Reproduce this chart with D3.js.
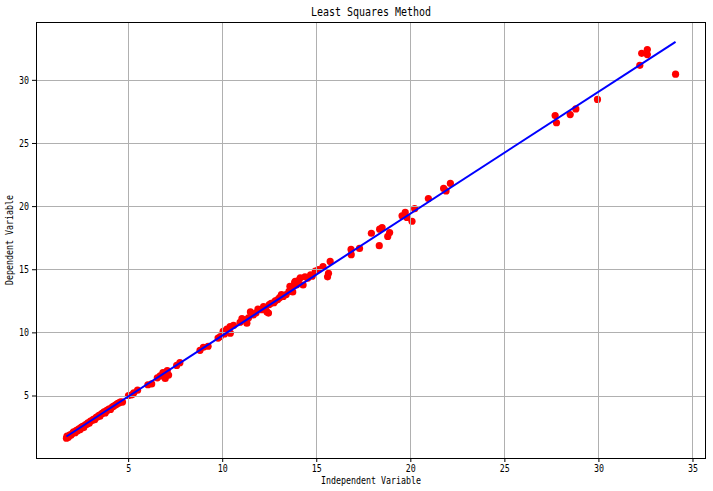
<!DOCTYPE html>
<html>
<head>
<meta charset="utf-8">
<script src="https://cdn.jsdelivr.net/npm/d3@7"></script>
<style>
  body { margin: 0; background: #fff; }
  text { font-family: "DejaVu Sans Mono", "Liberation Mono", monospace; fill: #000; }
</style>
</head>
<body>
<div id="chart"></div>
<script>
// Scatter data (independent, dependent)
const xValues = [
  1.72, 1.75, 1.82, 1.90, 1.96, 2.05, 2.10, 2.18, 2.25, 2.30, 2.38, 2.45, 2.50, 2.58, 2.64,
  2.72, 2.80, 2.86, 2.93, 3.00, 3.08, 3.15, 3.22, 3.30, 3.38, 3.45, 3.50, 3.58, 3.65, 3.72,
  3.78, 3.85, 3.92, 4.00, 4.06, 4.15, 4.22, 4.30, 4.38, 4.45, 4.52, 4.60, 4.70,
  5.02, 5.20, 5.30, 5.50, 6.05, 6.25, 6.55, 6.70, 6.85, 6.97, 7.08, 7.15, 7.58, 7.75,
  8.82, 9.00, 9.25, 9.78, 9.90,
  10.05, 10.12, 10.25, 10.42, 10.43, 10.60, 10.95, 11.05, 11.22, 11.31, 11.40, 11.50, 11.65,
  11.80, 11.90, 12.10, 12.20, 12.30, 12.38, 12.46, 12.50, 12.60, 12.75, 12.82, 12.95, 13.05,
  13.15, 13.25, 13.40, 13.55, 13.60, 13.65, 13.75, 13.85, 13.88, 13.95, 14.05, 14.15, 14.30,
  14.40, 14.55, 14.70, 14.78, 14.95, 15.12, 15.36, 15.60, 15.65, 15.74,
  16.85, 16.86, 17.30, 17.93, 18.35, 18.37, 18.50, 18.80, 18.90, 19.56, 19.73, 19.82, 20.09,
  20.23, 20.96, 21.77, 21.90, 22.13,
  27.70, 27.77, 28.50, 28.80, 29.95, 32.20, 32.30, 32.60, 32.60, 34.10
];
const yValues = [
  1.62, 1.78, 1.70, 1.88, 1.85, 2.02, 2.12, 2.05, 2.24, 2.18, 2.36, 2.30, 2.48, 2.55, 2.46,
  2.68, 2.72, 2.84, 2.80, 2.98, 3.02, 3.12, 3.08, 3.26, 3.32, 3.42, 3.36, 3.54, 3.60, 3.70,
  3.62, 3.80, 3.86, 3.95, 3.90, 4.08, 4.14, 4.22, 4.30, 4.38, 4.42, 4.50, 4.48,
  5.00, 5.05, 5.22, 5.42, 5.85, 5.92, 6.40, 6.55, 6.82, 6.35, 6.98, 6.62, 7.38, 7.60,
  8.58, 8.82, 8.90, 9.55, 9.67,
  10.08, 9.88, 10.25, 10.46, 9.94, 10.55, 10.80, 11.10, 11.00, 10.73, 11.15, 11.62, 11.38,
  11.55, 11.85, 11.80, 12.05, 11.95, 11.62, 11.53, 12.20, 12.30, 12.35, 12.50, 12.60, 12.75,
  13.00, 12.85, 13.00, 13.25, 13.65, 13.55, 13.20, 13.95, 14.05, 13.75, 14.10, 14.32, 13.75,
  14.40, 14.30, 14.55, 14.45, 14.85, 14.98, 15.20, 14.40, 14.68, 15.62,
  16.57, 16.15, 16.65, 17.85, 16.87, 18.17, 18.30, 17.60, 17.90, 19.23, 19.50, 19.10, 18.80,
  19.80, 20.60, 21.40, 21.20, 21.80,
  27.17, 26.60, 27.25, 27.70, 28.45, 31.15, 32.10, 32.40, 32.00, 30.45
];

const xTicks = [5, 10, 15, 20, 25, 30, 35];
const yTicks = [5, 10, 15, 20, 25, 30];

const titleText = "Least Squares Method";
const xLabel = "Independent Variable";
const yLabel = "Dependent Variable";

const width = 713, height = 491;
const margin = {top: 22, right: 7, bottom: 33, left: 36};
const innerW = width - margin.left - margin.right;
const innerH = height - margin.top - margin.bottom;

// least squares fit of the points
const points = xValues.map((x, i) => ({x: x, y: yValues[i]}));
const n = points.length;
const mx = d3.mean(xValues), my = d3.mean(yValues);
const slope = d3.sum(points, d => (d.x - mx) * (d.y - my)) / d3.sum(points, d => (d.x - mx) * (d.x - mx));
const intercept = my - slope * mx;
const fitLine = [d3.min(xValues), d3.max(xValues)].map(x => ({x: x, y: slope * x + intercept}));

// domains with 5% padding like matplotlib
const pad = ext => { const r = ext[1] - ext[0]; return [ext[0] - r * 0.05, ext[1] + r * 0.05]; };
const xExt = pad(d3.extent(xValues));
const yExt = pad(d3.extent(yValues.concat(fitLine.map(d => d.y))));

const x = d3.scaleLinear().domain(xExt).range([0, innerW]);
const y = d3.scaleLinear().domain(yExt).range([innerH, 0]);

const svg = d3.select("#chart").append("svg")
    .attr("width", width)
    .attr("height", height);

const g = svg.append("g")
    .attr("transform", "translate(" + margin.left + "," + margin.top + ")");

// narrow half-width text, like the original font
function squeeze(sel, charW) {
    sel.each(function() {
        const t = d3.select(this);
        t.attr("textLength", t.text().length * charW).attr("lengthAdjust", "spacingAndGlyphs");
    });
}

// points
g.append("g")
    .selectAll("circle")
    .data(points)
    .enter().append("circle")
    .attr("cx", d => x(d.x))
    .attr("cy", d => y(d.y))
    .attr("r", 3.6)
    .attr("fill", "#ff0000");

// grid
const grid = g.append("g").attr("class", "grid");
grid.selectAll(".gx")
    .data(xTicks)
    .enter().append("line")
    .attr("x1", d => Math.round(x(d)) + 0.5)
    .attr("x2", d => Math.round(x(d)) + 0.5)
    .attr("y1", 0).attr("y2", innerH)
    .attr("stroke", "#b0b0b0").attr("stroke-width", 1);
grid.selectAll(".gy")
    .data(yTicks)
    .enter().append("line")
    .attr("y1", d => Math.round(y(d)) + 0.5)
    .attr("y2", d => Math.round(y(d)) + 0.5)
    .attr("x1", 0).attr("x2", innerW)
    .attr("stroke", "#b0b0b0").attr("stroke-width", 1);

// fitted line
g.append("path")
    .datum(fitLine)
    .attr("fill", "none")
    .attr("stroke", "#0000ff")
    .attr("stroke-width", 2)
    .attr("d", d3.line().x(d => x(d.x)).y(d => y(d.y)));

// axes
const xAxis = g.append("g")
    .attr("transform", "translate(0," + innerH + ")")
    .call(d3.axisBottom(x).tickValues(xTicks).tickSize(4).tickPadding(3).tickFormat(d3.format("d")));
const yAxis = g.append("g")
    .call(d3.axisLeft(y).tickValues(yTicks).tickSize(4).tickPadding(3).tickFormat(d3.format("d")));
[xAxis, yAxis].forEach(a => {
    a.select(".domain").remove();
    a.selectAll(".tick line").attr("stroke", "#000").attr("stroke-width", 1);
    a.selectAll(".tick text").attr("font-size", 10).attr("font-family", null).call(squeeze, 5);
});

// frame
g.append("rect")
    .attr("x", 0.5).attr("y", 0.5)
    .attr("width", innerW - 1).attr("height", innerH)
    .attr("fill", "none")
    .attr("stroke", "#000")
    .attr("stroke-width", 1);

// title and labels
svg.append("text")
    .attr("x", margin.left + innerW / 2)
    .attr("y", 16)
    .attr("text-anchor", "middle")
    .attr("font-size", 12)
    .text(titleText)
    .call(squeeze, 6);

svg.append("text")
    .attr("x", margin.left + innerW / 2)
    .attr("y", height - 7)
    .attr("text-anchor", "middle")
    .attr("font-size", 10)
    .text(xLabel)
    .call(squeeze, 5);

svg.append("text")
    .attr("transform", "translate(13," + (margin.top + innerH / 2) + ") rotate(-90)")
    .attr("text-anchor", "middle")
    .attr("font-size", 10)
    .text(yLabel)
    .call(squeeze, 5);
</script>
</body>
</html>
